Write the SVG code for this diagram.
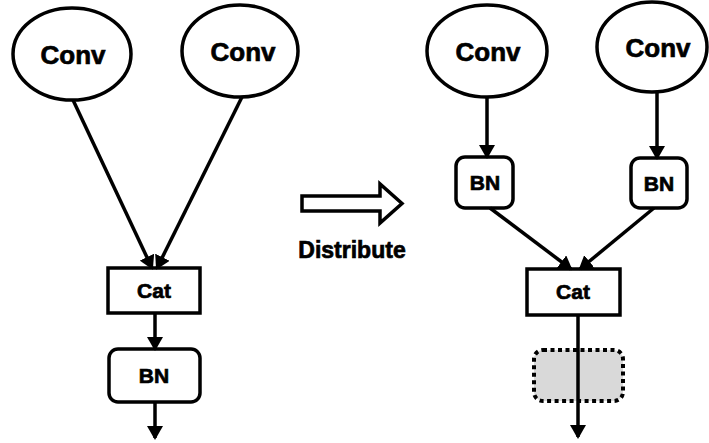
<svg xmlns="http://www.w3.org/2000/svg" width="709" height="443" viewBox="0 0 709 443">
  <style>
    .shape { fill: #ffffff; stroke: #000000; stroke-width: 3.5; }
    .lbl { font-family: "Liberation Sans", Arial, sans-serif; font-weight: bold; fill: #000000; stroke: #000000; stroke-width: 0.7; text-anchor: middle; }
    .conv { font-size: 26px; }
    .small { font-size: 21px; }
    .edge { fill: none; stroke: #000000; stroke-width: 3.5; marker-end: url(#arrow); }
    .ghost { fill: #d9d9d9; stroke: #000000; stroke-width: 4; stroke-dasharray: 4 3.5; }
  </style>
  <defs>
    <marker id="arrow" viewBox="0 0 14 16" markerWidth="14" markerHeight="16" refX="12" refY="8" orient="auto" markerUnits="userSpaceOnUse">
      <path d="M0,0 L14,8 L0,16 Z" fill="#000000"/>
    </marker>
  </defs>
  <rect width="709" height="443" fill="#ffffff"/>

  <g id="left-conv1">
    <ellipse class="shape" cx="72" cy="54" rx="59" ry="46"/>
    <text class="lbl conv" x="73" y="64">Conv</text>
  </g>
  <g id="left-conv2">
    <ellipse class="shape" cx="240" cy="51" rx="58" ry="46"/>
    <text class="lbl conv" x="243" y="61">Conv</text>
  </g>
  <g id="left-cat">
    <rect class="shape" x="108" y="268" width="92" height="45"/>
    <text class="lbl small" x="154" y="298">Cat</text>
  </g>
  <g id="left-bn">
    <rect class="shape" x="109" y="349" width="91" height="53" rx="9"/>
    <text class="lbl small" x="154" y="383">BN</text>
  </g>

  <g id="distribute">
    <polygon class="shape" points="302,196 380,196 380,184 402,203.5 380,223 380,211 302,211"/>
    <text class="lbl" style="font-size:23px" x="352" y="258">Distribute</text>
  </g>

  <g id="right-conv1">
    <ellipse class="shape" cx="487" cy="51" rx="60" ry="46"/>
    <text class="lbl conv" x="488" y="61">Conv</text>
  </g>
  <g id="right-conv2">
    <ellipse class="shape" cx="652" cy="47" rx="55" ry="45"/>
    <text class="lbl conv" x="658" y="57">Conv</text>
  </g>
  <g id="right-bn1">
    <rect class="shape" x="456" y="157" width="57" height="51" rx="9"/>
    <text class="lbl small" x="485" y="190">BN</text>
  </g>
  <g id="right-bn2">
    <rect class="shape" x="631" y="158" width="56" height="50" rx="9"/>
    <text class="lbl small" x="659" y="191">BN</text>
  </g>
  <g id="right-cat">
    <rect class="shape" x="527" y="269" width="93" height="46"/>
    <text class="lbl small" x="573" y="299">Cat</text>
  </g>
  <g id="right-placeholder">
    <rect class="ghost" x="534" y="350" width="89" height="51" rx="9"/>
  </g>

  <g id="connectors">
    <line class="edge" x1="73" y1="100" x2="152" y2="268"/>
    <line class="edge" x1="242" y1="97" x2="157" y2="268"/>
    <line class="edge" x1="155" y1="313" x2="155" y2="349"/>
    <line class="edge" x1="155" y1="402" x2="155" y2="438"/>
    <line class="edge" x1="487" y1="97" x2="487" y2="157"/>
    <line class="edge" x1="657" y1="92" x2="657" y2="158"/>
    <line class="edge" x1="490" y1="208" x2="571" y2="269"/>
    <line class="edge" x1="654" y1="208" x2="580" y2="269"/>
    <line class="edge" x1="578" y1="315" x2="578" y2="437"/>
  </g>
</svg>
